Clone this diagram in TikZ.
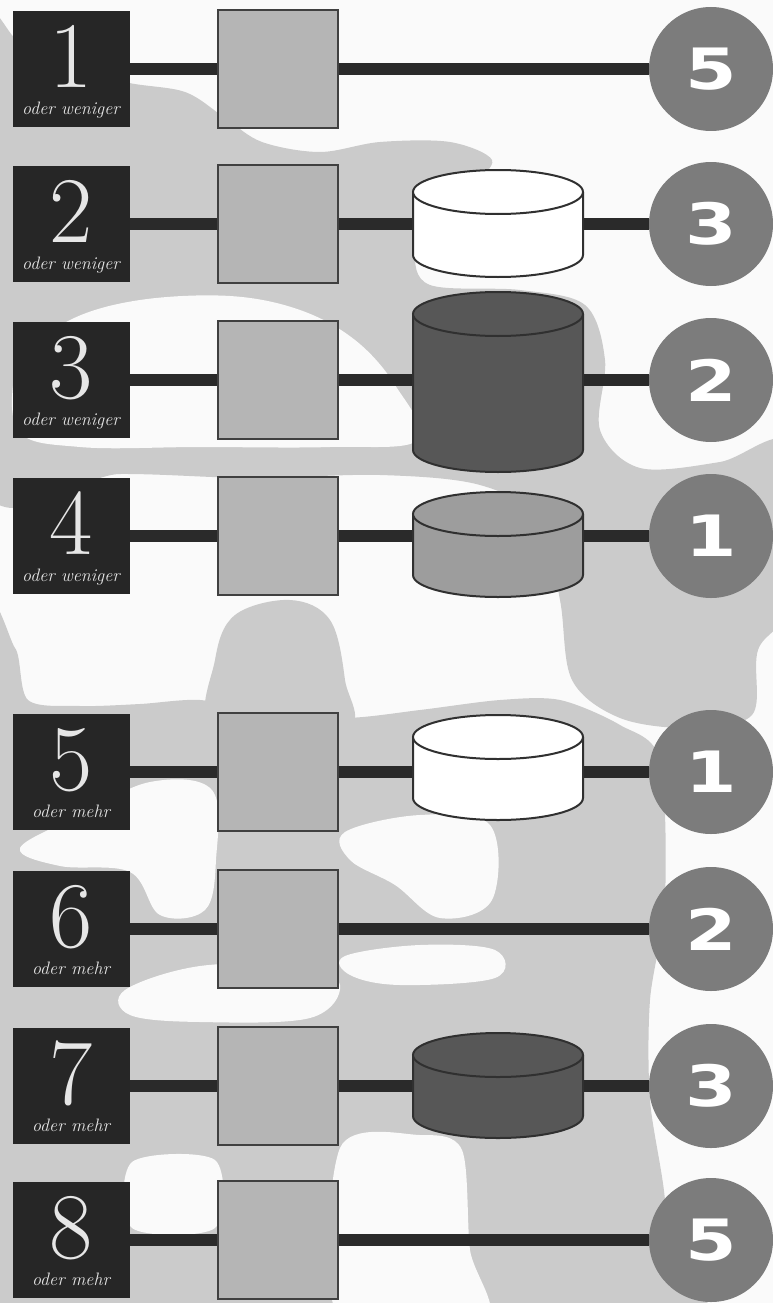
\documentclass[tikz,border=0pt]{standalone}
\usepackage{fontspec}
\usepackage{graphicx}
\newfontfamily\numfont{DejaVu Sans}
\definecolor{paper}{HTML}{FAFAFA}
\definecolor{blob}{HTML}{CBCBCB}
\definecolor{boxdark}{HTML}{262626}
\definecolor{digitwhite}{HTML}{E6E6E6}
\definecolor{sqgray}{HTML}{B5B5B5}
\definecolor{sqedge}{HTML}{404040}
\definecolor{circgray}{HTML}{7C7C7C}
\definecolor{linedark}{HTML}{2A2A2A}
\definecolor{cyldark}{HTML}{575757}
\definecolor{cylmid}{HTML}{9D9D9D}
\definecolor{cyledge}{HTML}{303030}
\pgfdeclarelayer{bglayer}
\pgfdeclarelayer{linelayer}
\pgfsetlayers{bglayer,linelayer,main}
\tikzset{
  leftbox/.style={fill=boxdark, minimum width=117pt, minimum height=116pt, inner sep=0pt},
  sqbox/.style={fill=sqgray, draw=sqedge, line width=2.5pt, minimum width=120pt, minimum height=118pt, inner sep=0pt},
  circ/.style={circle, fill=circgray, minimum size=124pt, inner sep=0pt, text=white, font=\numfont\bfseries\fontsize{57}{57}\selectfont},
  conn/.style={draw=linedark, line width=12pt},
  label box/.style={text=digitwhite, align=center, inner sep=0pt, font=\itshape\fontsize{18}{18}\selectfont},
  blobfill/.style={fill=blob},
  paperfill/.style={fill=paper},
  cylside/.style={draw=cyledge, line width=2pt},
}
\newcommand\bignum[1]{{\upshape\fontsize{94}{94}\selectfont #1}}
\newcommand\drawcyl[5]{%
  \path[cylside, fill=#5] ({#2-85},{#3+22}) -- ({#2-85},{#4-22}) arc[start angle=180, end angle=360, x radius=85pt, y radius=22pt] -- ({#2+85},{#3+22});
  \path[cylside, fill=#5] (#2,{#3+22}) ellipse[x radius=85pt, y radius=22pt];
  \node[inner sep=0pt, minimum width=170pt, minimum height={#4-#3}] (#1) at (#2,{(#3+#4)/2}) {};
}
\newcommand\rowitems[4]{% index, y, subtext, circle number
  \node[leftbox] (L#1) at (71,#2) {};
  \node[label box, anchor=base] (N#1) at ([yshift=-45pt]L#1.center) {\bignum{#1}\\[9pt]#3};
  \node[sqbox] (S#1) at (278,#2) {};
  \node[circ] (C#1) at (711,#2) {\scalebox{1.3}[1]{#4}};
  \begin{pgfonlayer}{linelayer}
    \draw[conn] (L#1.east) -- (C#1.west);
  \end{pgfonlayer}
}
\begin{document}
\begin{tikzpicture}[x=1pt, y=-1pt]
\useasboundingbox (0,0) rectangle (773,1303);
\begin{pgfonlayer}{bglayer}
  \fill[paperfill] (0,0) rectangle (773,1303);
  \begin{scope}
    \clip (0,0) rectangle (773,1303);
    % upper mass
    \fill[blobfill] plot[smooth cycle, tension=0.55] coordinates {
      (-20,40) (20,42) (70,62) (125,82) (185,92) (225,118) (262,142) (320,152) (380,142) (450,142)
      (492,160) (470,185) (430,200) (415,250) (430,285) (520,290) (585,305) (605,360) (600,430)
      (640,468) (720,462) (790,445) (790,600) (758,650) (752,715) (690,728) (620,718) (572,680) (560,600)
      (540,520) (480,485) (380,475) (250,478) (120,474) (-20,480)};
    % white crescent
    \fill[paperfill] plot[smooth cycle, tension=0.6] coordinates {
      (20,360) (70,320) (140,300) (230,296) (300,310) (355,340) (395,385) (418,440)
      (330,447) (200,447) (80,447) (18,430)};
    % lower mass
    \fill[blobfill] plot[smooth cycle, tension=0.5] coordinates {
      (-20,640) (15,648) (28,700) (80,706) (140,704) (200,700) (260,712) (345,718) (420,710)
      (500,700) (560,700) (620,725) (660,760) (665,900) (650,1000) (650,1100) (665,1200)
      (670,1320) (-20,1320)};
    % tongue
    \fill[blobfill] plot[smooth cycle, tension=0.6] coordinates {
      (215,660) (235,615) (290,600) (330,620) (345,680) (345,730) (215,730)};
    % white islands
    \fill[paperfill] plot[smooth cycle, tension=0.6] coordinates {
      (20,848) (80,815) (150,782) (212,790) (216,860) (205,910) (160,915) (130,872) (60,866)};
    \fill[paperfill] plot[smooth cycle, tension=0.6] coordinates {
      (125,990) (200,966) (300,966) (340,985) (310,1018) (200,1022) (130,1015)};
    \fill[paperfill] plot[smooth cycle, tension=0.6] coordinates {
      (345,832) (420,815) (490,825) (492,900) (440,918) (395,885) (350,860)};
    \fill[paperfill] plot[smooth cycle, tension=0.6] coordinates {
      (345,956) (420,945) (495,950) (495,978) (400,985) (350,975)};
    \fill[paperfill] plot[smooth cycle, tension=0.5] coordinates {
      (340,1148) (420,1135) (462,1150) (470,1250) (485,1320) (340,1320)};
    \fill[paperfill] plot[smooth cycle, tension=0.5] coordinates {
      (132,1162) (215,1160) (215,1228) (132,1228)};
  \end{scope}
\end{pgfonlayer}

\rowitems{1}{69}{oder weniger}{5}
\rowitems{2}{224}{oder weniger}{3}
\rowitems{3}{380}{oder weniger}{2}
\rowitems{4}{536}{oder weniger}{1}
\rowitems{5}{772}{oder mehr}{1}
\rowitems{6}{929}{oder mehr}{2}
\rowitems{7}{1086}{oder mehr}{3}
\rowitems{8}{1240}{oder mehr}{5}

\drawcyl{D2}{498}{170}{277}{white}
\drawcyl{D3}{498}{292}{472}{cyldark}
\drawcyl{D4}{498}{492}{597}{cylmid}
\drawcyl{D5}{498}{715}{820}{white}
\drawcyl{D7}{498}{1033}{1138}{cyldark}
\end{tikzpicture}
\end{document}
